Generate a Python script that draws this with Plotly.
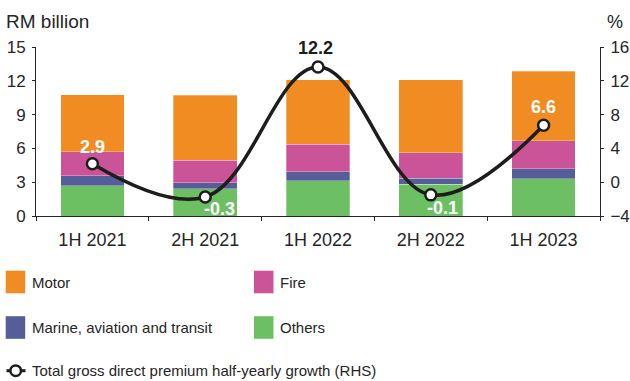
import plotly.graph_objects as go

# ---------------- data ----------------
categories = ["1H 2021", "2H 2021", "1H 2022", "2H 2022", "1H 2023"]
others = [2.67, 2.40, 3.11, 2.81, 3.29]
marine = [0.89, 0.53, 0.83, 0.54, 0.89]
fire = [2.16, 2.02, 2.43, 2.28, 2.52]
motor = [5.04, 5.75, 5.72, 6.46, 6.16]
growth = [2.9, -0.3, 12.2, -0.1, 6.6]
left_ticks = [0, 3, 6, 9, 12, 15]
right_ticks = [-4, 0, 4, 8, 12, 16]

# ---------------- layout constants ----------------
W, H = 630, 381
ML, MR, MT, MB = 36, 30, 47, 165
PW, PH = W - ML - MR, H - MT - MB

FONT = "Liberation Sans, Arial, Helvetica, sans-serif"
TXT = "#262626"

C_MOTOR = "#F18C22"
C_FIRE = "#CB5498"
C_MARINE = "#555E98"
C_OTHERS = "#6CBF63"
C_LINE = "#1d1d1b"


def px(x):
    return (x - ML) / PW


def py(y):
    return (H - MB - y) / PH


fig = go.Figure()

for name, vals, col in [("Others", others, C_OTHERS),
                        ("Marine, aviation and transit", marine, C_MARINE),
                        ("Fire", fire, C_FIRE),
                        ("Motor", motor, C_MOTOR)]:
    fig.add_trace(go.Bar(x=categories, y=vals, name=name, marker_color=col,
                         marker_line=dict(color="rgba(255,255,255,0.6)", width=0.5),
                         yaxis="y", showlegend=False, hoverinfo="skip"))

# dummy trace so the right-hand axis is drawn
fig.add_trace(go.Scatter(x=categories, y=[None] * len(categories), yaxis="y2",
                         mode="lines", showlegend=False, hoverinfo="skip"))

fig.add_trace(go.Scatter(x=categories, y=growth, yaxis="y3", mode="lines+markers",
                         line=dict(color=C_LINE, width=3.5, shape="spline", smoothing=1.1),
                         marker=dict(size=11, color="white", line=dict(color=C_LINE, width=2.5)),
                         showlegend=False, hoverinfo="skip"))

axis_common = dict(showgrid=False, zeroline=False, showline=True, linecolor=TXT,
                   linewidth=1, ticks="outside", ticklen=3, tickcolor=TXT,
                   automargin=False, ticklabelstandoff=3,
                   tickfont=dict(family=FONT, size=17, color=TXT))

fig.update_layout(
    width=W, height=H,
    margin=dict(l=ML, r=MR, t=MT, b=MB, pad=0, autoexpand=False),
    paper_bgcolor="white", plot_bgcolor="white",
    barmode="stack", bargap=0.435,
    showlegend=False,
    xaxis=dict(showgrid=False, zeroline=False, showline=True, linecolor=TXT, linewidth=1,
               ticks="outside", ticklen=4, tickcolor=TXT, tickson="boundaries",
               automargin=False, ticklabelstandoff=7,
               tickfont=dict(family=FONT, size=18, color=TXT)),
    yaxis=dict(range=[0, 15], tickvals=left_ticks, **axis_common),
    yaxis2=dict(range=[-4, 16], tickvals=right_ticks, overlaying="y", side="right",
                **axis_common),
    yaxis3=dict(range=[-2.132, 14.118], overlaying="y", visible=False),
)

# data labels
label_cfg = [  # (xshift, yshift, colour)
    (0, 17, "white"),
    (14, -12, "white"),
    (-3, 19, C_LINE),
    (12, -13, "white"),
    (0, 18, "white"),
]
for cat, g, (xs, ys, col) in zip(categories, growth, label_cfg):
    fig.add_annotation(x=cat, y=g, xref="x", yref="y3", text=f"<b>{g}</b>",
                       showarrow=False, xshift=xs, yshift=ys,
                       font=dict(family=FONT, size=18, color=col))

# axis titles
fig.add_annotation(x=px(4), y=py(22), xref="paper", yref="paper", text="RM billion",
                   showarrow=False, xanchor="left", yanchor="middle",
                   font=dict(family=FONT, size=19, color=TXT))
fig.add_annotation(x=px(605), y=py(22), xref="paper", yref="paper", text="%",
                   showarrow=False, xanchor="left", yanchor="middle",
                   font=dict(family=FONT, size=18, color=TXT))

# manual legend
legend_items = [
    ("Motor", C_MOTOR, 5.7, 282),
    ("Fire", C_FIRE, 254, 282),
    ("Marine, aviation and transit", C_MARINE, 5.7, 327.5),
    ("Others", C_OTHERS, 254, 327.5),
]
for name, col, x0, yc in legend_items:
    fig.add_shape(type="rect", xref="paper", yref="paper",
                  x0=px(x0), x1=px(x0 + 19.5), y0=py(yc - 11.3), y1=py(yc + 11.3),
                  fillcolor=col, line=dict(width=0))
    fig.add_annotation(x=px(x0 + 24), y=py(yc), xref="paper", yref="paper", text=name,
                       showarrow=False, xanchor="left", yanchor="middle",
                       font=dict(family=FONT, size=15, color=TXT))

yl = 370.7
fig.add_shape(type="line", xref="paper", yref="paper", x0=px(6.5), x1=px(25.5),
              y0=py(yl), y1=py(yl), line=dict(color=C_LINE, width=3))
fig.add_shape(type="circle", xref="paper", yref="paper",
              x0=px(15.7 - 5.3), x1=px(15.7 + 5.3), y0=py(yl - 5.3), y1=py(yl + 5.3),
              fillcolor="white", line=dict(color=C_LINE, width=2.5))
fig.add_annotation(x=px(30), y=py(yl), xref="paper", yref="paper",
                   text="Total gross direct premium half-yearly growth (RHS)",
                   showarrow=False, xanchor="left", yanchor="middle",
                   font=dict(family=FONT, size=15, color=TXT))

fig.write_html("out.html")
